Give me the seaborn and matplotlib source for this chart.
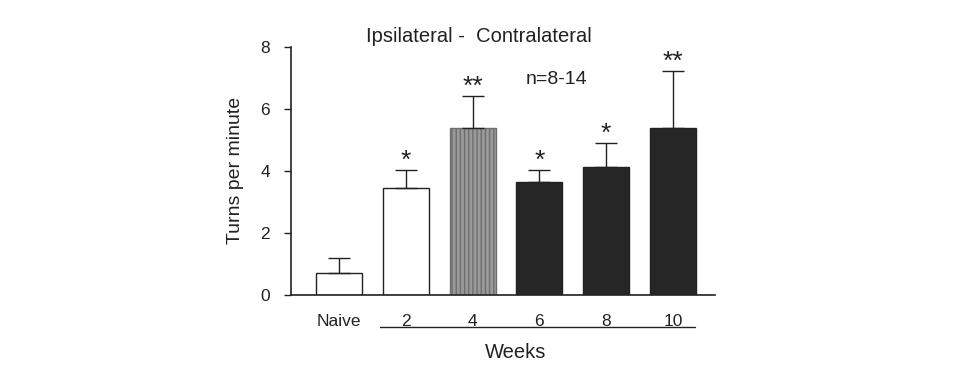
import matplotlib
matplotlib.use("Agg")
import matplotlib.pyplot as plt
import seaborn as sns
import pandas as pd

# data
groups = ["Naive", "2", "4", "6", "8", "10"]
means = [0.7, 3.45, 5.4, 3.65, 4.12, 5.4]
sem = [0.5, 0.58, 1.02, 0.38, 0.78, 1.83]
stars = ["", "*", "**", "*", "*", "**"]
fills = ["white", "white", "#9a9a9a", "#262626", "#262626", "#262626"]

sns.set_theme(style="white")
plt.rcParams["font.family"] = ["Liberation Sans", "DejaVu Sans"]
INK = "#222222"

df = pd.DataFrame({"group": groups, "turns": means})

fig = plt.figure(figsize=(9.54, 3.72), dpi=100)
ax = fig.add_axes([0.305, 0.207, 0.4445, 0.667])

sns.barplot(data=df, x="group", y="turns", order=groups, errorbar=None,
            width=0.69, ax=ax, linewidth=1.0, edgecolor=INK)
for patch, c in zip(ax.patches, fills):
    patch.set_facecolor(c)
    if c == "#9a9a9a":
        patch.set_hatch("||||")
        patch.set_edgecolor("#6e6e6e")

xs = range(len(groups))
ax.errorbar(xs, means, yerr=[[0] * len(sem), sem], fmt="none",
            ecolor=INK, elinewidth=1.0, capsize=8, capthick=1.0, zorder=3)
for x, m, s, st in zip(xs, means, sem, stars):
    if st:
        ax.text(x, m + s - 0.1, st, ha="center", va="bottom",
                fontsize=19, color=INK)

ax.set_xlim(-0.72, 5.63)
ax.set_ylim(0, 8)
ax.set_yticks([0, 2, 4, 6, 8])
ax.set_xlabel("")
ax.set_ylabel("Turns per minute", fontsize=14, color=INK, labelpad=12)
ax.tick_params(axis="y", direction="out", length=5, width=1, colors=INK,
               labelsize=12.5, left=True, pad=10)
ax.tick_params(axis="x", length=0, labelsize=12.5, colors=INK, pad=14)
for side in ["top", "right"]:
    ax.spines[side].set_visible(False)
for side in ["left", "bottom"]:
    ax.spines[side].set_color(INK)
    ax.spines[side].set_linewidth(1.2)

ax.text(2.1, 8.32, "Ipsilateral -  Contralateral", fontsize=14.5, color=INK,
        ha="center", va="center", clip_on=False)
ax.text(3.25, 6.94, "n=8-14", fontsize=14, color=INK, ha="center", va="center")

# "Weeks" bracket under the week labels
ax.plot([0.62, 5.33], [-1.03, -1.03], color=INK, lw=1.0, clip_on=False)
ax.text(2.65, -1.84, "Weeks", fontsize=14.5, color=INK, ha="center", va="center")

fig.savefig("out.png", dpi=100)
